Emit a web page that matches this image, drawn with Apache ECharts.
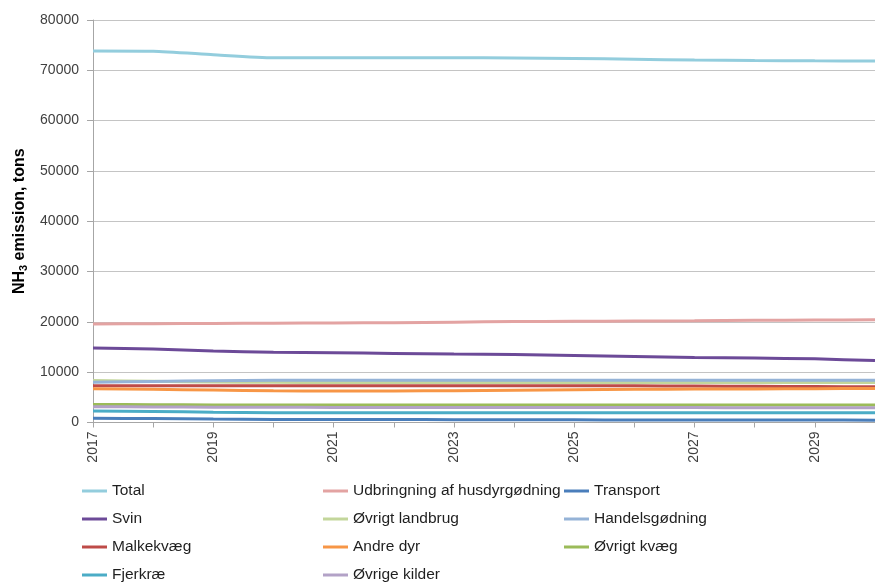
<!DOCTYPE html>
<html>
<head>
<meta charset="utf-8">
<script src="https://cdn.jsdelivr.net/npm/echarts@6/dist/echarts.min.js"></script>
<style>
  html, body { margin: 0; padding: 0; background: #fff; }
  #chart { width: 875px; height: 583px; }
</style>
</head>
<body>
<div id="chart"></div>
<script>
// Projected NH3 emissions by source, 2017-2030 (tons)
const years = ['2017','2018','2019','2020','2021','2022','2023','2024','2025','2026','2027','2028','2029','2030'];

const total           = [73850, 73800, 73100, 72500, 72500, 72500, 72500, 72450, 72350, 72200, 72050, 71950, 71880, 71850];
const udbringning     = [19600, 19650, 19700, 19750, 19800, 19850, 19950, 20050, 20100, 20150, 20200, 20300, 20350, 20400];
const transport       = [850, 780, 680, 600, 590, 580, 570, 550, 530, 510, 500, 490, 480, 470];
const svin            = [14800, 14600, 14200, 13950, 13850, 13730, 13600, 13530, 13330, 13130, 12930, 12800, 12650, 12300];
const oevrigtLandbrug = [8350, 8200, 8050, 8000, 7950, 7950, 7950, 7950, 7950, 7950, 7950, 7950, 7950, 7950];
const handelsgoedning = [8000, 8150, 8300, 8400, 8400, 8400, 8400, 8400, 8400, 8400, 8400, 8400, 8400, 8400];
const malkekvaeg      = [7300, 7300, 7300, 7300, 7300, 7300, 7300, 7300, 7300, 7280, 7250, 7200, 7150, 7100];
const andreDyr        = [6700, 6600, 6450, 6300, 6270, 6280, 6320, 6420, 6520, 6600, 6650, 6680, 6720, 6760];
const oevrigtKvaeg    = [3600, 3550, 3500, 3480, 3480, 3480, 3480, 3480, 3480, 3480, 3480, 3480, 3480, 3500];
const fjerkrae        = [2300, 2200, 2050, 1950, 1950, 1950, 1950, 1950, 1950, 1950, 1950, 1950, 1950, 1950];
const oevrigeKilder   = [3150, 3100, 3050, 3020, 3000, 3000, 3000, 3000, 2980, 2970, 2960, 2950, 2950, 2930];

const yTicks = { min: 0, max: 80000, interval: 10000 };

const seriesDefs = [
  { name: 'Total',                         data: total,           color: '#93CDDD' },
  { name: 'Udbringning af husdyrgødning',  data: udbringning,     color: '#E3A3A2' },
  { name: 'Transport',                     data: transport,       color: '#4A7EBB' },
  { name: 'Svin',                          data: svin,            color: '#6C4A98' },
  { name: 'Øvrigt landbrug',               data: oevrigtLandbrug, color: '#C3D69B' },
  { name: 'Handelsgødning',                data: handelsgoedning, color: '#95B3D7' },
  { name: 'Malkekvæg',                     data: malkekvaeg,      color: '#BE4B48' },
  { name: 'Andre dyr',                     data: andreDyr,        color: '#F79646' },
  { name: 'Øvrigt kvæg',                   data: oevrigtKvaeg,    color: '#9BBB59' },
  { name: 'Fjerkræ',                       data: fjerkrae,        color: '#4BACC6' },
  { name: 'Øvrige kilder',                 data: oevrigeKilder,   color: '#B3A2C7' }
];

// legend laid out as rows of three entries each
const legendRows = [
  ['Total', 'Udbringning af husdyrgødning', 'Transport'],
  ['Svin', 'Øvrigt landbrug', 'Handelsgødning'],
  ['Malkekvæg', 'Andre dyr', 'Øvrigt kvæg'],
  ['Fjerkræ', 'Øvrige kilder']
];

const FONT = '"Liberation Sans", Arial, sans-serif';

const chart = echarts.init(document.getElementById('chart'), null, { renderer: 'canvas' });

chart.setOption({
  animation: false,
  backgroundColor: '#ffffff',
  textStyle: { fontFamily: FONT },
  grid: { left: 93, top: 20, right: -8, bottom: 160.5, containLabel: false },
  legend: legendRows.map((row, i) => ({
    orient: 'horizontal',
    left: 82,
    top: 482 + i * 28,
    padding: 0,
    itemGap: 0,
    itemWidth: 25,
    itemHeight: 3,
    icon: 'rect',
    data: row,
    textStyle: { fontFamily: FONT, fontSize: 15.5, color: '#1f1f1f', lineHeight: 18, width: 211 }
  })),
  xAxis: {
    type: 'category',
    data: years,
    boundaryGap: false,
    axisLine: { lineStyle: { color: '#A6A6A6', width: 1 } },
    axisTick: { show: true, interval: 0, length: 5, lineStyle: { color: '#A6A6A6' } },
    axisLabel: {
      interval: 1,
      rotate: 90,
      margin: 9,
      fontFamily: FONT,
      fontSize: 14,
      color: '#404040'
    },
    splitLine: { show: false }
  },
  yAxis: {
    type: 'value',
    min: yTicks.min,
    max: yTicks.max,
    interval: yTicks.interval,
    axisLine: { show: true, lineStyle: { color: '#A6A6A6', width: 1 } },
    axisTick: { show: true, length: 6, lineStyle: { color: '#A6A6A6' } },
    axisLabel: { margin: 14, fontFamily: FONT, fontSize: 14, color: '#404040', formatter: v => String(v) },
    splitLine: { show: true, lineStyle: { color: '#C4C4C4', width: 1 } },
    name: '{b|NH}{s|3}{b| emission, tons}',
    nameLocation: 'middle',
    nameGap: 62,
    nameRotate: 90,
    nameTextStyle: {
      rich: {
        b: { fontFamily: FONT, fontWeight: 'bold', fontSize: 16, color: '#000', lineHeight: 19 },
        s: { fontFamily: FONT, fontWeight: 'bold', fontSize: 11, color: '#000', lineHeight: 11, verticalAlign: 'bottom', padding: [6, 0, 0, 0] }
      }
    }
  },
  series: seriesDefs.map(s => ({
    name: s.name,
    type: 'line',
    data: s.data,
    showSymbol: false,
    symbol: 'none',
    smooth: 0.2,
    color: s.color,
    lineStyle: { color: s.color, width: 3 },
    emphasis: { disabled: true }
  }))
});
</script>
</body>
</html>
